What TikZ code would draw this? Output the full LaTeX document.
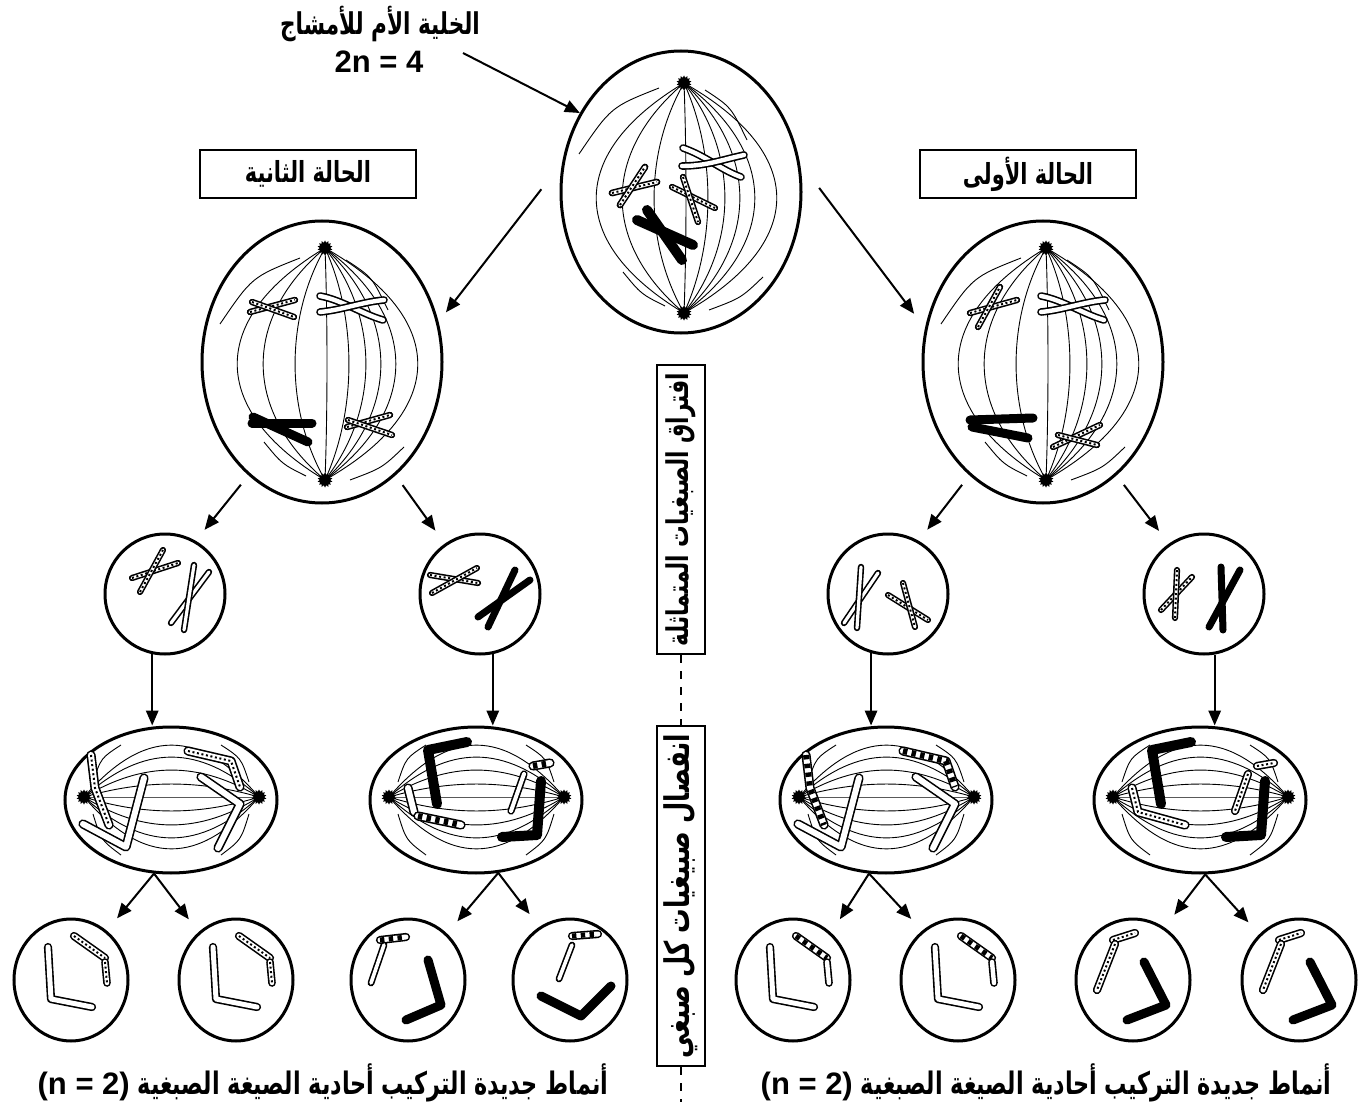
\documentclass[tikz,border=0pt]{standalone}
\usepackage{fontspec}
\setmainfont{Liberation Sans}
\newfontfamily\arabicfont[Script=Arabic,FakeStretch=0.72]{DejaVu Sans}
\TeXXeTstate=1
\usepackage{tikz}
\usetikzlibrary{calc}
\usetikzlibrary{arrows.meta}
\usetikzlibrary{shapes.geometric}
\tikzset{>={Triangle[length=7.5pt,width=6.2pt]}}

\newcommand{\artxt}[1]{{\arabicfont\bfseries\beginR #1\endR}}
% chromatid with dotted or barred filling
\newcommand{\dotchr}[2][2pt]{\path[chro=#1] #2; \path[dots] #2;}
\newcommand{\barchr}[2][2pt]{\path[chro=#1] #2; \path[bars=#1] #2;}

\begin{document}
\begin{tikzpicture}[x=0.5pt,y=-0.5pt,
	cell/.style={draw,ellipse,line width=1.5pt,inner sep=0pt},
	fibre/.style={line width=0.45pt},
	pole/.style={star,star points=14,star point ratio=1.4,fill=black,inner sep=0pt,minimum size=7.5pt},
	chro/.style={draw,line width=0.8pt,double=white,double distance=#1,line cap=round,line join=round},
	chro/.default=2pt,
	chrb/.style={draw,line width=#1,line cap=round,line join=round},
	chrb/.default=4pt,
	dots/.style={draw,line width=1pt,dash pattern=on 1pt off 1.3pt},
	bars/.style={draw,line width=#1,dash pattern=on 2.2pt off 2.2pt},
	arr/.style={->,line width=1pt},
	casebox/.style={draw,line width=1pt,minimum width=108pt,minimum height=24pt,font=\fontsize{14.5}{16}\selectfont},
	sidebox/.style={draw,line width=1pt,rotate=90,minimum height=24pt,inner sep=1pt},
	divider/.style={line width=0.7pt,dash pattern=on 4pt off 4pt},
	lbl/.style={font=\fontsize{15.5}{17}\selectfont\bfseries,inner sep=0pt}]
\useasboundingbox (0,0) rectangle (1362,1102);

% labels
\node[lbl,font=\fontsize{15}{17}\selectfont] (titl) at (380,24) {\artxt{الخلية الأم للأمشاج}};
\node[lbl,font=\fontsize{15.5}{17}\selectfont\bfseries] (nfour) at (379,62) {2n = 4};
\node[casebox] (case2) at (308,174) {\artxt{الحالة الثانية}};
\node[casebox] (case1) at (1028,174) {\artxt{الحالة الأولى}};

% cells with vertical spindle
\foreach \n/\x/\y/\u/\v in {top/681/192/-109/121,midL/322/362/-114/118,midR/1043/362/-114/118}{
	\begin{scope}[shift={(\x,\y)}]
		\node[cell,minimum width=120pt,minimum height=141pt] (\n) at (0,0) {};
		\coordinate (\n-pt) at (3,\u);
		\coordinate (\n-pb) at (3,\v);
		\foreach \d in {-88,-62,-30,2,24,41,56,71,93}
			\draw[fibre] (\n-pt) .. controls +(1.33*\d,70) and +(1.33*\d,-70) .. (\n-pb);
		\draw[fibre] (-102,-38) .. controls (-70,-85) .. (-22,-104);
		\draw[fibre] (66,-52) .. controls (50,-85) .. (24,-102);
		\draw[fibre] (-58,80) .. controls (-40,102) .. (-16,114);
		\draw[fibre] (82,85) .. controls (60,106) .. (28,118);
		\node[pole] (\n-up) at (\n-pt) {};
		\node[pole] (\n-dn) at (\n-pb) {};
	\end{scope}
}

% chromosomes of the mother cell
\begin{scope}[shift={(681,192)}]
	\path[chro=2.2pt] (2,-44) .. controls (25,-36) and (40,-22) .. (60,-15);
	\path[chro=2.2pt] (1,-26) .. controls (25,-26) and (40,-32) .. (63,-37);
	\dotchr[1.8pt]{(-69,1) -- (-24,-10)}
	\dotchr[1.8pt]{(-61,13) -- (-36,-25)}
	\dotchr[1.6pt]{(-9,-5) -- (34,16)}
	\dotchr[1.6pt]{(2,-15) -- (17,30)}
	\path[chrb=5pt] (-44,28) -- (12,53);
	\path[chrb=5pt] (-34,18) -- (1,68);
\end{scope}
% case two
\begin{scope}[shift={(322,362)}]
	\dotchr[1.6pt]{(-72,-50) -- (-27,-62)}
	\dotchr[1.6pt]{(-70,-60) -- (-28,-45)}
	\path[chro=2.2pt] (-2,-66) .. controls (20,-62) and (40,-48) .. (61,-42);
	\path[chro=2.2pt] (-2,-50) .. controls (20,-52) and (40,-60) .. (62,-62);
	\path[chrb=4.5pt] (-70,61) -- (-10,61);
	\path[chrb=4.5pt] (-69,55) -- (-14,80);
	\dotchr[1.6pt]{(25,65) -- (68,53)}
	\dotchr[1.6pt]{(26,58) -- (70,73)}
\end{scope}
% case one
\begin{scope}[shift={(1043,362)}]
	\dotchr[1.6pt]{(-73,-49) -- (-26,-62)}
	\dotchr[1.6pt]{(-65,-35) -- (-43,-75)}
	\path[chro=2.2pt] (-2,-66) .. controls (20,-62) and (40,-48) .. (61,-42);
	\path[chro=2.2pt] (-2,-50) .. controls (20,-52) and (40,-60) .. (62,-62);
	\path[chrb=4.5pt] (-73,58) -- (-10,56);
	\path[chrb=4.5pt] (-71,65) -- (-15,76);
	\dotchr[1.6pt]{(10,85) -- (57,63)}
	\dotchr[1.6pt]{(15,73) -- (54,83)}
\end{scope}

% daughter cells after the first division
\foreach \n/\x in {c1/165,c2/480,c3/888,c4/1204}
	\node[cell,minimum width=60pt,minimum height=60pt] (\n) at (\x,594) {};
\begin{scope}[shift={(165,594)}]
	\dotchr[1.5pt]{(-33,-16) -- (13,-31)}
	\dotchr[1.5pt]{(-25,-2) -- (-2,-44)}
	\path[chro=1.6pt] (6,29) -- (44,-22);
	\path[chro=1.6pt] (19,36) -- (29,-29);
\end{scope}
\begin{scope}[shift={(480,594)}]
	\dotchr[1.5pt]{(-50,-19) -- (-2,-11)}
	\dotchr[1.5pt]{(-48,-1) -- (-3,-26)}
	\path[chrb=3.5pt] (-2,23) -- (50,-14);
	\path[chrb=3.5pt] (8,33) -- (35,-24);
\end{scope}
\begin{scope}[shift={(888,594)}]
	\path[chro=1.6pt] (-44,29) -- (-10,-21);
	\path[chro=1.6pt] (-31,34) -- (-27,-27);
	\dotchr[1.5pt]{(0,1) -- (40,26)}
	\dotchr[1.5pt]{(15,-11) -- (27,33)}
\end{scope}
\begin{scope}[shift={(1204,594)}]
	\dotchr[1.5pt]{(-43,16) -- (-12,-17)}
	\dotchr[1.5pt]{(-29,24) -- (-27,-24)}
	\path[chrb=3.5pt] (5,33) -- (36,-24);
	\path[chrb=3.5pt] (19,36) -- (17,-27);
\end{scope}

% cells with horizontal spindle
\foreach \n/\x in {e1/171,e2/476,e3/886,e4/1200}{
	\begin{scope}[shift={(\x,800)}]
		\node[cell,minimum width=106pt,minimum height=73pt] (\n) at (0,0) {};
		\coordinate (\n-pl) at (-87,-3);
		\coordinate (\n-pr) at (88,-3);
		\foreach \d in {-52,-40,-27,-13,0,14,28,41,52}
			\draw[fibre] (\n-pl) .. controls +(60,1.33*\d) and +(-60,1.33*\d) .. (\n-pr);
		\draw[fibre] (-78,-18) .. controls (-70,-42) .. (-50,-55);
		\draw[fibre] (-78,14) .. controls (-70,40) .. (-50,55);
		\draw[fibre] (78,-18) .. controls (70,-42) .. (50,-55);
		\draw[fibre] (78,14) .. controls (70,40) .. (50,55);
		\node[pole] (\n-lt) at (\n-pl) {};
		\node[pole] (\n-rt) at (\n-pr) {};
	\end{scope}
}
\begin{scope}[shift={(171,800)}]
	\dotchr[3pt]{(-80,-45) -- (-76,-12) -- (-62,25)}
	\dotchr[3pt]{(17,-49) -- (60,-39) -- (69,-13)}
	\path[chro=3pt] (-88,24) -- (-45,47) -- (-27,-22);
	\path[chro=3pt] (30,-23) -- (69,4) -- (47,48);
\end{scope}
\begin{scope}[shift={(476,800)}]
	\path[chrb=5pt] (-9,-58) -- (-48,-50) -- (-39,4);
	\path[chro=3pt] (-68,-12) -- (-62,12);
	\barchr[3pt]{(-58,16) -- (-15,25)}
	\barchr[3pt]{(57,-34) -- (74,-37)}
	\path[chro=2pt] (48,-26) -- (35,11);
	\path[chrb=5pt] (65,-19) -- (61,35) -- (26,37);
\end{scope}
\begin{scope}[shift={(886,800)}]
	\barchr[3pt]{(-80,-45) -- (-76,-12) -- (-62,25)}
	\barchr[3pt]{(17,-49) -- (60,-39) -- (69,-13)}
	\path[chro=3pt] (-88,24) -- (-45,47) -- (-27,-22);
	\path[chro=3pt] (30,-23) -- (69,4) -- (47,48);
\end{scope}
\begin{scope}[shift={(1200,800)}]
	\path[chrb=5pt] (-9,-58) -- (-48,-50) -- (-39,4);
	\dotchr[3pt]{(-68,-12) -- (-62,12) -- (-15,25)}
	\dotchr[2.5pt]{(57,-34) -- (74,-37)}
	\dotchr[2.5pt]{(48,-26) -- (35,11)}
	\path[chrb=5pt] (65,-19) -- (61,35) -- (26,37);
\end{scope}

% gametes
\foreach \n/\x in {r1/71,r2/236,r3/408,r4/570,r5/793,r6/958,r7/1133,r8/1299}
	\node[cell,minimum width=57pt,minimum height=61pt] (\n) at (\x,980) {};
\foreach \x in {71,236}{
	\begin{scope}[shift={(\x,980)}]
		\path[chro=2.5pt] (-23,-33) -- (-20,19) -- (21,27);
		\dotchr[2.5pt]{(3,-44) -- (34,-22)}
		\dotchr[2.2pt]{(34,-18) -- (36,3)}
	\end{scope}
}
\foreach \x in {793,958}{
	\begin{scope}[shift={(\x,980)}]
		\path[chro=2.5pt] (-23,-33) -- (-20,19) -- (21,27);
		\barchr[2.5pt]{(3,-44) -- (34,-22)}
		\path[chro=2.2pt] (34,-18) -- (36,3);
	\end{scope}
}
\foreach \x in {1133,1299}{
	\begin{scope}[shift={(\x,980)}]
		\dotchr[2.5pt]{(-20,-40) -- (2,-47)}
		\dotchr[2.5pt]{(-18,-36) -- (-36,10)}
		\path[chrb=4.5pt] (11,-18) -- (33,25) -- (-6,40);
	\end{scope}
}
\begin{scope}[shift={(408,980)}]
	\barchr[2.5pt]{(-28,-40) -- (-2,-43)}
	\path[chro=1.8pt] (-24,-35) -- (-37,3);
	\path[chrb=4.5pt] (20,-20) -- (33,25) -- (-2,40);
\end{scope}
\begin{scope}[shift={(570,980)}]
	\barchr[2.5pt]{(2,-44) -- (28,-46)}
	\path[chro=1.8pt] (2,-35) -- (-11,-1);
	\path[chrb=4.5pt] (-29,16) -- (11,36) -- (41,6);
\end{scope}

% connectors
\coordinate (tail) at (463,53);
\draw[arr] (tail) -- (top.142);
\draw[arr,shorten <=17pt,shorten >=6pt] (top.166) -- (midL.19);
\draw[arr,shorten <=16pt,shorten >=9pt] (top.14) -- (midR.164);
\draw[arr,shorten <=6pt,shorten >=7pt] (midL.237) -- (c1.60);
\draw[arr,shorten <=6pt,shorten >=8pt] (midL.303) -- (c2.125);
\draw[arr,shorten <=6pt,shorten >=7pt] (midR.237) -- (c3.60);
\draw[arr,shorten <=6pt,shorten >=8pt] (midR.303) -- (c4.125);
\draw[arr] (c1.258) -- (c1.258 |- e1.north);
\draw[arr] (c2.282) -- (c2.282 |- e2.north);
\draw[arr] (c3.254) -- (c3.254 |- e3.north);
\draw[arr] (c4.280) -- (c4.280 |- e4.north);
\draw[arr,shorten >=8pt] (e1.257) -- (r1.54);
\draw[arr,shorten >=8pt] (e1.257) -- (r2.128);
\draw[arr,shorten >=8pt] (e2.287) -- (r3.50);
\draw[arr,shorten >=8pt] (e2.287) -- (r4.120);
\draw[arr,shorten >=8pt] (e3.257) -- (r5.51);
\draw[arr,shorten >=8pt] (e3.257) -- (r6.126);
\draw[arr,shorten >=8pt] (e4.274) -- (r7.59);
\draw[arr,shorten >=8pt] (e4.274) -- (r8.131);

% middle separator
\node[sidebox,minimum width=144.5pt,font=\fontsize{15}{17}\selectfont] (sep1) at (681,509.5) {\artxt{افتراق الصبغيات المتماثلة}};
\node[sidebox,minimum width=170pt,font=\fontsize{17}{19}\selectfont] (sep2) at (681,896) {\artxt{انفصال صبيغيات كل صبغي}};
\coordinate (foot) at (681,1102);
\draw[divider] (sep1.west) -- (sep2.east);
\draw[divider] (sep2.west) -- (foot);

% results
\node[lbl] (res2) at (323,1083) {\artxt{أنماط جديدة التركيب أحادية الصيغة الصبغية \beginL{\normalfont\bfseries(n = 2)}\endL}};
\node[lbl] (res1) at (1046,1083) {\artxt{أنماط جديدة التركيب أحادية الصيغة الصبغية \beginL{\normalfont\bfseries(n = 2)}\endL}};
\end{tikzpicture}
\end{document}
